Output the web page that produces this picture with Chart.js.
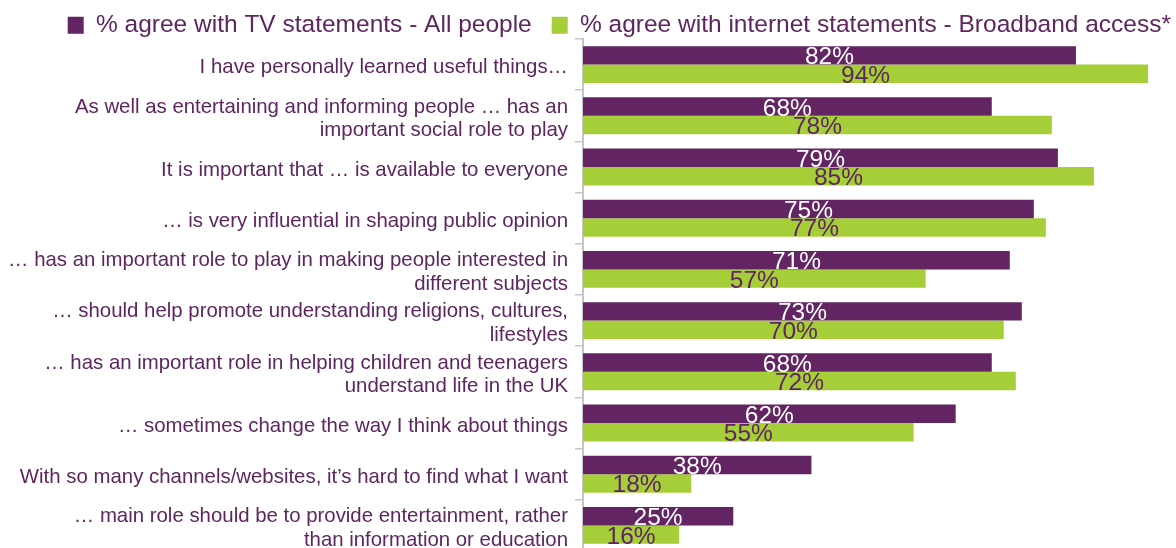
<!DOCTYPE html>
<html>
<head>
<meta charset="utf-8">
<script src="https://cdn.jsdelivr.net/npm/chart.js@4/dist/chart.umd.min.js"></script>
<style>
  html, body { margin: 0; padding: 0; background: #ffffff; overflow: hidden; }
  /* a few px taller than the window: the last row runs off the bottom edge */
  #wrap { position: relative; width: 1176px; height: 551px; }
</style>
</head>
<body>
<div id="wrap"><canvas id="agreeChart"></canvas></div>
<script>
// Statements (multi-line ones are split where the text wraps)
const statements = [
  "I have personally learned useful things…",
  ["As well as entertaining and informing people … has an", "important social role to play"],
  "It is important that … is available to everyone",
  "… is very influential in shaping public opinion",
  ["… has an important role to play in making people interested in", "different subjects"],
  ["… should help promote understanding religions, cultures,", "lifestyles"],
  ["… has an important role in helping children and teenagers", "understand life in the UK"],
  "… sometimes change the way I think about things",
  "With so many channels/websites, it’s hard to find what I want",
  ["… main role should be to provide entertainment, rather", "than information or education"]
];

const tvAgree = [82, 68, 79, 75, 71, 73, 68, 62, 38, 25];
const internetAgree = [94, 78, 85, 77, 57, 70, 72, 55, 18, 16];

const seriesNames = [
  "% agree with TV statements - All people",
  "% agree with internet statements - Broadband access*"
];

const purple = "#622462";
const lime = "#a6ce39";
const textPurple = "#5e2560";
const fontFamily = "'Liberation Sans', Arial, sans-serif";

// value labels drawn in the middle of each bar
const barValueLabels = {
  id: "barValueLabels",
  afterDatasetsDraw(chart) {
    const ctx = chart.ctx;
    ctx.save();
    ctx.font = "24.5px " + fontFamily;
    ctx.textAlign = "center";
    ctx.textBaseline = "alphabetic";
    chart.data.datasets.forEach((ds, i) => {
      const meta = chart.getDatasetMeta(i);
      ctx.fillStyle = i === 0 ? "#ffffff" : textPurple;
      meta.data.forEach((bar, j) => {
        const cx = (bar.base + bar.x) / 2;
        ctx.fillText(ds.data[j] + "%", cx, bar.y + 9);
      });
    });
    ctx.restore();
  }
};

// keep the legend block short so the bars start right under it
const legendHeight = {
  id: "legendHeight",
  afterInit(chart) {
    const fit = chart.legend.fit;
    chart.legend.fit = function () {
      fit.call(this);
      this.height = 46;
    };
  }
};

new Chart(document.getElementById("agreeChart"), {
  type: "bar",
  data: {
    labels: statements,
    datasets: [
      {
        label: seriesNames[0],
        data: tvAgree,
        backgroundColor: purple,
        borderWidth: 0,
        categoryPercentage: 0.72,
        barPercentage: 1.0
      },
      {
        label: seriesNames[1],
        data: internetAgree,
        backgroundColor: lime,
        borderWidth: 0,
        categoryPercentage: 0.72,
        barPercentage: 1.0
      }
    ]
  },
  options: {
    indexAxis: "y",
    responsive: true,
    maintainAspectRatio: false,
    animation: false,
    layout: { padding: { top: -7, right: -15, bottom: 0, left: 0 } },
    plugins: {
      tooltip: { enabled: false },
      legend: {
        position: "top",
        align: "end",
        labels: {
          boxWidth: 16,
          boxHeight: 17,
          padding: 20,
          color: textPurple,
          font: { family: fontFamily, size: 24.5 }
        }
      }
    },
    scales: {
      x: {
        display: false,
        min: 0,
        max: 98.65
      },
      y: {
        afterFit(scale) {
          scale.width = 583;
          scale.paddingTop = 0;
          scale.paddingBottom = 0;
        },
        border: { display: true, color: "#c6c6c6", width: 2 },
        grid: {
          display: true,
          drawOnChartArea: false,
          color: "#c6c6c6",
          lineWidth: 1.5,
          tickLength: 8,
          offset: true
        },
        ticks: {
          color: textPurple,
          padding: 7,
          labelOffset: 3,
          autoSkip: false,
          font: { family: fontFamily, size: 20.4, lineHeight: 1.15 }
        }
      }
    }
  },
  plugins: [barValueLabels, legendHeight]
});
</script>
</body>
</html>
